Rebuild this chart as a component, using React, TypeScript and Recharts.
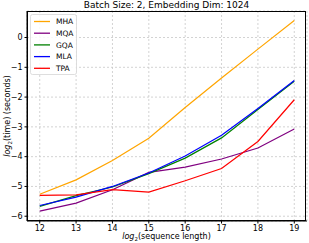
import React from 'react';
import { LineChart, Line, XAxis, YAxis, CartesianGrid } from 'recharts';

// log2(sequence length)
const seqLen = [12, 13, 14, 15, 16, 17, 18, 19];

// log2(time) per attention variant
const mha = [-5.26, -4.78, -4.13, -3.38, -2.35, -1.36, -0.39, 0.57];
const mqa = [-5.83, -5.56, -5.11, -4.53, -4.35, -4.08, -3.71, -3.07];
const gqa = [-5.67, -5.31, -5.02, -4.57, -4.05, -3.37, -2.42, -1.47];
const mla = [-5.64, -5.36, -5.0, -4.55, -3.98, -3.28, -2.38, -1.44];
const tpa = [-5.3, -5.28, -5.11, -5.19, -4.81, -4.4, -3.49, -2.09];

const xTicks = [12, 13, 14, 15, 16, 17, 18, 19];
const yTicks = [-6, -5, -4, -3, -2, -1, 0];

const series = [
  { key: 'MHA', values: mha, color: '#FFA500' },
  { key: 'MQA', values: mqa, color: '#800080' },
  { key: 'GQA', values: gqa, color: '#008000' },
  { key: 'MLA', values: mla, color: '#0000FF' },
  { key: 'TPA', values: tpa, color: '#FF0000' },
];

const data = seqLen.map((x, i) => {
  const row: any = { x };
  series.forEach(s => {
    row[s.key] = s.values[i];
  });
  return row;
});

const font = '"DejaVu Sans", sans-serif';

// matplotlib-style legend box in the upper left
const LegendBox = () => (
  <svg width={47} height={61} style={{ position: 'absolute', left: 29.5, top: 13.5 }}>
    <rect x={0.5} y={0.5} width={46} height={60} rx={2} fill="rgba(255,255,255,0.85)" stroke="#d5d5d5" strokeWidth={0.8} />
    {series.map((s, i) => {
      const y = 7.5 + i * 11.7;
      return (
        <g key={s.key}>
          <line x1={4} x2={20} y1={y} y2={y} stroke={s.color} strokeWidth={1.3} />
          <text x={26} y={y + 2.8} fontSize={7.5} fontFamily={font} fill="#000">
            {s.key}
          </text>
        </g>
      );
    })}
  </svg>
);

export default function App() {
  return (
    <div style={{ position: 'absolute', left: 0, top: 0, width: 309, height: 243, background: '#fff', fontFamily: font }}>
      <LineChart width={309} height={243} data={data} margin={{ top: 11, right: 2, left: 0, bottom: 0 }}>
        <CartesianGrid stroke="#c8c8c8" strokeDasharray="2 2" strokeWidth={0.8} />
        <XAxis
          dataKey="x"
          type="number"
          domain={[11.65, 19.35]}
          ticks={xTicks}
          allowDataOverflow
          height={22}
          tickSize={2.5}
          tickLine={{ stroke: '#000' }}
          axisLine={{ stroke: '#000' }}
          tick={{ fill: '#000', fontSize: 8, fontFamily: font }}
        />
        <YAxis
          type="number"
          domain={[-6.16, 0.89]}
          ticks={yTicks}
          allowDataOverflow
          width={27}
          tickSize={2.5}
          tickLine={{ stroke: '#000' }}
          axisLine={{ stroke: '#000' }}
          tick={{ fill: '#000', fontSize: 8, fontFamily: font }}
          tickFormatter={(v: number) => (v < 0 ? '\u2212' + Math.abs(v) : String(v))}
        />
        {series.map(s => (
          <Line
            key={s.key}
            dataKey={s.key}
            stroke={s.color}
            strokeWidth={1.2}
            dot={false}
            isAnimationActive={false}
          />
        ))}
      </LineChart>
      {/* frame */}
      <div
        style={{
          position: 'absolute',
          left: 26.5,
          top: 11,
          width: 279.5,
          height: 209.5,
          border: '0.8px solid #000',
          boxSizing: 'border-box',
          pointerEvents: 'none',
        }}
      />
      <LegendBox />
      <div style={{ position: 'absolute', left: 26, width: 281, top: 0, textAlign: 'center', fontSize: 9, lineHeight: '11px' }}>
        Batch Size: 2, Embedding Dim: 1024
      </div>
      <div style={{ position: 'absolute', left: 26, width: 281, top: 232, textAlign: 'center', fontSize: 8, lineHeight: '10px' }}>
        <i>log</i>
        <span style={{ fontSize: 5.5, position: 'relative', top: 2 }}>2</span>(sequence length)
      </div>
      <div style={{ position: 'absolute', left: 8, top: 116, width: 0, height: 0 }}>
        <div
          style={{
            position: 'absolute',
            transform: 'translate(-50%, -50%) rotate(-90deg)',
            whiteSpace: 'nowrap',
            fontSize: 8,
            lineHeight: '10px',
          }}
        >
          <i>log</i>
          <span style={{ fontSize: 5.5, position: 'relative', top: 2 }}>2</span>(time) (seconds)
        </div>
      </div>
    </div>
  );
}
